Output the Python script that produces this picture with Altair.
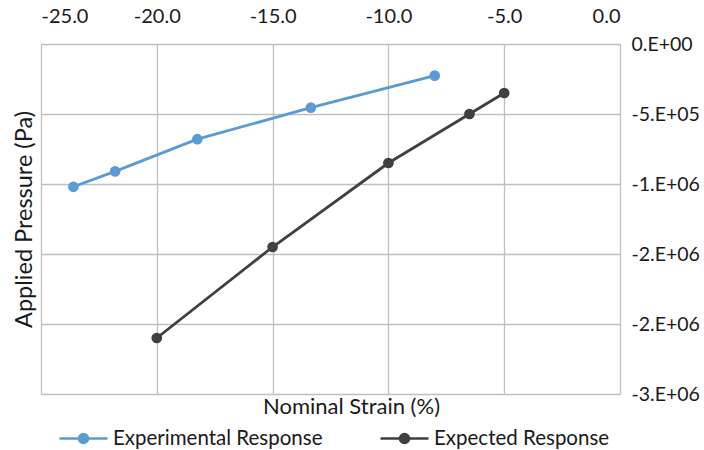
import altair as alt
import pandas as pd

# Experimental response
exp_strain = [-23.6, -21.8, -18.25, -13.35, -8.0]
exp_pressure = [-1.02e6, -0.91e6, -0.68e6, -0.455e6, -0.226e6]
# Expected response
expd_strain = [-20.0, -15.0, -10.0, -6.5, -5.0]
expd_pressure = [-2.1e6, -1.45e6, -0.85e6, -0.5e6, -0.35e6]

series_names = ["Experimental Response", "Expected Response"]
series_colors = ["#5B9BD5", "#404040"]

x_ticks = [-25, -20, -15, -10, -5, 0]
x_tick_labels = ["-25.0", "-20.0", "-15.0", "-10.0", "-5.0", "0.0"]
y_ticks = [0, -5e5, -1e6, -1.5e6, -2e6, -2.5e6]
y_tick_labels = ["0.E+00", "-5.E+05", "-1.E+06", "-2.E+06", "-2.E+06", "-3.E+06"]

rows = []
for s, p in zip(exp_strain, exp_pressure):
    rows.append({"strain": s, "pressure": p, "series": series_names[0], "order": len(rows)})
for s, p in zip(expd_strain, expd_pressure):
    rows.append({"strain": s, "pressure": p, "series": series_names[1], "order": len(rows)})
df = pd.DataFrame(rows)


def label_expr(vals, labels):
    expr = "''"
    for v, l in reversed(list(zip(vals, labels))):
        expr = f"(abs(datum.value - ({v})) < 1e-6 ? '{l}' : {expr})"
    return expr


def symbol_path():
    p = "M-1,0L1,0"
    for r in [0.19, 0.12, 0.05]:
        p += f"M{-r},0A{r},{r},0,1,0,{r},0A{r},{r},0,1,0,{-r},0"
    return p


FONT = "Lato"
TEXT = "#1a1a1a"
GRID = "#BFBFBF"

xscale = alt.Scale(domain=[-25, 0], nice=False, zero=False)
yscale = alt.Scale(domain=[-2.5e6, 0], nice=False, zero=False)
cscale = alt.Scale(domain=series_names, range=series_colors)

color = alt.Color(
    "series:N",
    scale=cscale,
    legend=alt.Legend(
        title=None,
        orient="none",
        direction="horizontal",
        legendX=17,
        legendY=369,
        symbolType=symbol_path(),
        symbolSize=2304,
        symbolStrokeWidth=2.5,
        labelFont=FONT,
        labelFontSize=20.5,
        labelColor=TEXT,
        labelOffset=4,
        labelLimit=400,
        columnPadding=52,
    ),
)

lines = alt.Chart(df).mark_line(strokeWidth=2.8).encode(
    x=alt.X(
        "strain:Q",
        scale=xscale,
        axis=alt.Axis(
            orient="top",
            values=x_ticks,
            labelExpr=label_expr(x_ticks, x_tick_labels),
            title=None,
            domain=False,
            ticks=False,
            grid=True,
            gridColor=GRID,
            gridWidth=1.3,
            labelFont=FONT,
            labelFontSize=20,
            labelColor=TEXT,
            labelPadding=18,
        ),
    ),
    y=alt.Y(
        "pressure:Q",
        scale=yscale,
        axis=alt.Axis(
            orient="right",
            values=y_ticks,
            labelExpr=label_expr(y_ticks, y_tick_labels),
            title=None,
            domain=False,
            ticks=False,
            grid=True,
            gridColor=GRID,
            gridWidth=1.3,
            labelFont=FONT,
            labelFontSize=19.5,
            labelColor=TEXT,
            labelPadding=11,
            labelAlign="left",
        ),
    ),
    color=color,
    detail="series:N",
    order="order:Q",
)

points = alt.Chart(df).mark_circle(size=115, opacity=1).encode(
    x=alt.X(
        "strain:Q",
        scale=xscale,
        axis=alt.Axis(
            orient="bottom",
            title="Nominal Strain (%)",
            labels=False,
            ticks=False,
            domain=False,
            grid=False,
            titleFont=FONT,
            titleFontSize=22,
            titleFontWeight="normal",
            titleColor=TEXT,
            titlePadding=2,
            titleX=310,
        ),
    ),
    y=alt.Y(
        "pressure:Q",
        scale=yscale,
        axis=alt.Axis(
            orient="left",
            title="Applied Pressure (Pa)",
            labels=False,
            ticks=False,
            domain=False,
            grid=False,
            titleFont=FONT,
            titleFontSize=23.5,
            titleFontWeight="normal",
            titleColor=TEXT,
            titlePadding=5,
        ),
    ),
    fill=alt.Fill("series:N", scale=alt.Scale(domain=series_names, range=series_colors), legend=None),
)

chart = (
    alt.layer(lines, points)
    .resolve_axis(x="independent", y="independent")
    .resolve_scale(fill="independent", color="independent")
    .properties(
        width=579,
        height=350,
        autosize=alt.AutoSizeParams(type="none"),
        padding={"left": 41, "top": 44, "right": 84, "bottom": 56},
        background="white",
    )
    .configure_view(stroke=None)
)

chart.save("out.html", embed_options={"renderer": "svg", "actions": False})
